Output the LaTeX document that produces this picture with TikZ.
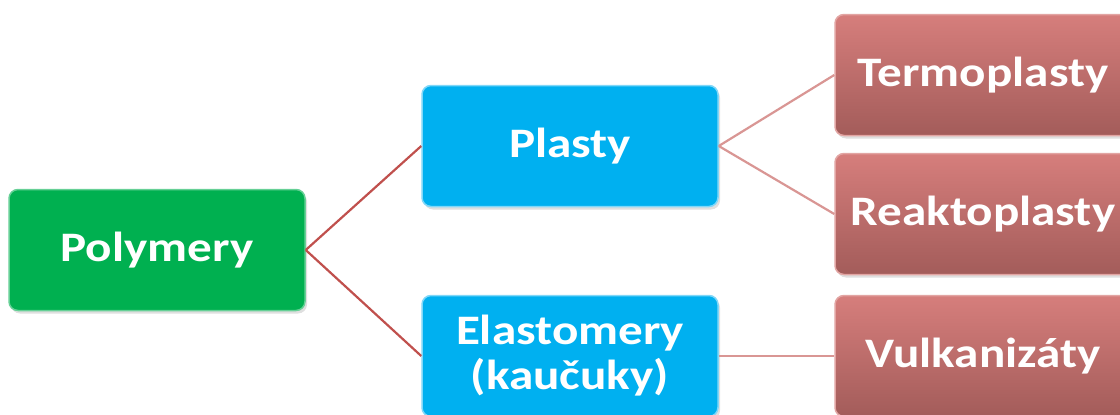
\documentclass[tikz,border=0pt]{standalone}
\usepackage{fontspec}
\setmainfont[FakeStretch=1.17]{Carlito}
\usetikzlibrary{shadows}
\definecolor{polygreen}{HTML}{00B050}
\definecolor{plastblue}{HTML}{00B0F0}
\definecolor{redtop}{HTML}{D67E7C}
\definecolor{redbot}{HTML}{A35C5A}
\definecolor{darkline}{HTML}{C0504D}
\definecolor{lightline}{HTML}{D99694}

\begin{document}
\begin{tikzpicture}[x=1pt, y=-1pt,
  box/.style={rounded corners=9pt, minimum width=296pt, minimum height=121pt,
              align=center, text=white, font=\fontsize{42}{45}\selectfont\bfseries,
              line width=1.5pt,
              drop shadow={opacity=0.25, shadow xshift=2pt, shadow yshift=-3pt}},
  zelena/.style={box, fill=polygreen, draw=polygreen!60!white},
  modra/.style={box, fill=plastblue, draw=plastblue!50!white},
  cervena/.style={box, top color=redtop, bottom color=redbot, draw=redtop!70!white},
  hrana/.style={line width=2.2pt, darkline},
  hrana2/.style={line width=2.2pt, lightline}]
\useasboundingbox (0,0) rectangle (1120,415);
\clip (0,0) rectangle (1120,415);
\node[zelena] (poly) at (157,250) {Polymery};
\node[modra] (plasty) at (570,146) {Plasty};
\node[modra] (elast) at (570,356) {Elastomery\\(kaučuky)};
\node[cervena] (termo) at (983,75) {Termoplasty};
\node[cervena] (reakto) at (983,214) {Reaktoplasty};
\node[cervena] (vulk) at (983,356) {Vulkanizáty};
\draw[hrana] (poly.east) -- (plasty.west);
\draw[hrana] (poly.east) -- (elast.west);
\draw[hrana2] (plasty.east) -- (termo.west);
\draw[hrana2] (plasty.east) -- (reakto.west);
\draw[hrana2] (elast.east) -- (vulk.west);
\end{tikzpicture}
\end{document}
